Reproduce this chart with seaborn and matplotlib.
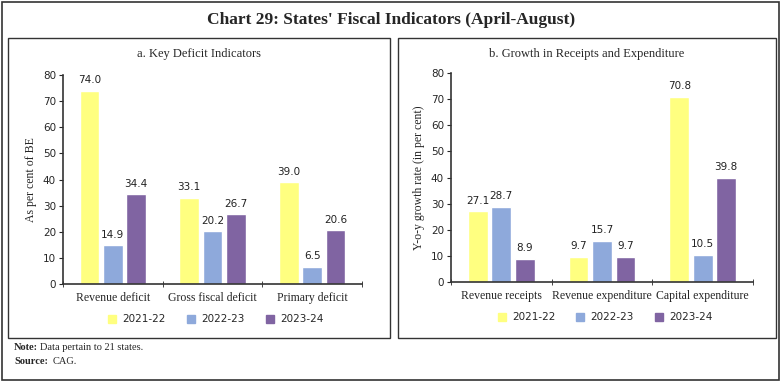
import pandas as pd
import numpy as np
import matplotlib.pyplot as plt
import seaborn as sns
from matplotlib.patches import Rectangle
from matplotlib.lines import Line2D

# data
years = ['2021-22', '2022-23', '2023-24']
colors = ['#FFFF80', '#8EA9DB', '#8064A2']

deficit_cats = ['Revenue deficit', 'Gross fiscal deficit', 'Primary deficit']
deficit_2122 = [74.0, 33.1, 39.0]
deficit_2223 = [14.9, 20.2, 6.5]
deficit_2324 = [34.4, 26.7, 20.6]

growth_cats = ['Revenue receipts', 'Revenue expenditure', 'Capital expenditure']
growth_2122 = [27.1, 9.7, 70.8]
growth_2223 = [28.7, 15.7, 10.5]
growth_2324 = [8.9, 9.7, 39.8]

sns.set_style('white')
plt.rcParams['font.family'] = ['Liberation Serif', 'DejaVu Serif']

W, H = 782, 383
fig = plt.figure(figsize=(W / 100, H / 100), dpi=100)


def fx(px):
    return px / W


def fy(py):
    return 1 - py / H


def draw_panel(ax, cats, vals, ylabel):
    df = pd.DataFrame({
        'cat': np.repeat(cats, 3),
        'year': years * len(cats),
        'val': np.array(vals).T.flatten(),
    })
    sns.barplot(data=df, x='cat', y='val', hue='year', palette=colors,
                width=0.7, gap=0.15, ax=ax, legend=False, saturation=1)
    for c in ax.containers:
        ax.bar_label(c, fmt='%.1f', padding=4, fontsize=7.5,
                     family=['DejaVu Sans'], color='#222222')
    ax.set_ylim(0, 80)
    ax.set_xlim(-0.5, 2.5)
    ax.set_yticks(range(0, 81, 10))
    ax.set_xlabel('')
    ax.set_ylabel(ylabel, fontsize=8.5, labelpad=4)
    ax.tick_params(axis='y', labelsize=7.5, length=3, direction='out', left=True, pad=2)
    ax.tick_params(axis='x', labelsize=8.5, length=0, pad=6)
    for t in ax.get_yticklabels():
        t.set_family('DejaVu Sans')
    ax.set_xticks([-0.5, 0.5, 1.5, 2.5], minor=True)
    ax.tick_params(axis='x', which='minor', length=4, direction='inout', bottom=True)
    for s in ['top', 'right']:
        ax.spines[s].set_visible(False)
    for s in ['left', 'bottom']:
        ax.spines[s].set_color('#333333')
        ax.spines[s].set_linewidth(1.2)
    handles = [Line2D([], [], marker='s', linestyle='', markersize=6,
                      markerfacecolor=c, markeredgecolor=c) for c in colors]
    ax.legend(handles, years, loc='upper center', bbox_to_anchor=(0.5, -0.1),
              ncol=3, frameon=False, handletextpad=0.0,
              columnspacing=1.4, prop={'family': 'DejaVu Sans', 'size': 7.5})


# panel a
ax1 = fig.add_axes([fx(63), fy(284), fx(362 - 63), fy(75) - fy(284)])
draw_panel(ax1, deficit_cats, [deficit_2122, deficit_2223, deficit_2324],
           'As per cent of BE')

# panel b
ax2 = fig.add_axes([fx(451), fy(282), fx(753 - 451), fy(73) - fy(282)])
draw_panel(ax2, growth_cats, [growth_2122, growth_2223, growth_2324],
           'Y-o-y growth rate (in per cent)')

# frames
fig.add_artist(Rectangle((fx(2), fy(380)), fx(777), fy(2) - fy(380),
                         fill=False, edgecolor='#333333', lw=1.2,
                         transform=fig.transFigure))
fig.add_artist(Rectangle((fx(8), fy(338)), fx(382), fy(38) - fy(338),
                         fill=False, edgecolor='#333333', lw=1,
                         transform=fig.transFigure))
fig.add_artist(Rectangle((fx(398), fy(338)), fx(378), fy(38) - fy(338),
                         fill=False, edgecolor='#333333', lw=1,
                         transform=fig.transFigure))

fig.text(0.5, fy(20), "Chart 29: States' Fiscal Indicators (April-August)",
         ha='center', va='center', fontsize=12.5, fontweight='bold')
fig.text(fx(199), fy(54), 'a. Key Deficit Indicators', ha='center',
         va='center', fontsize=9)
fig.text(fx(587), fy(54), 'b. Growth in Receipts and Expenditure',
         ha='center', va='center', fontsize=9)

fig.text(fx(14), fy(348), 'Note:', ha='left', va='center', fontsize=7.5,
         fontweight='bold')
fig.text(fx(40), fy(348), 'Data pertain to 21 states.', ha='left',
         va='center', fontsize=7.5)
fig.text(fx(14), fy(362), 'Source:', ha='left', va='center', fontsize=7.5,
         fontweight='bold')
fig.text(fx(53), fy(362), 'CAG.', ha='left', va='center', fontsize=7.5)

fig.savefig('out.png', dpi=100)
